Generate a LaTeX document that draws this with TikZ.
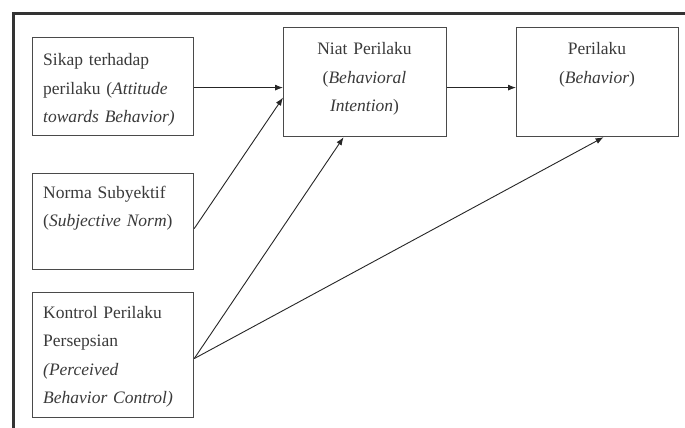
\documentclass[tikz,border=0pt]{standalone}
\usepackage{fontspec}
\setmainfont{Liberation Serif}
\usetikzlibrary{arrows.meta}
\definecolor{boxc}{HTML}{4A4A4A}
\definecolor{txtc}{HTML}{3A3A3A}
\tikzset{
  box/.style={draw=boxc, line width=1.2pt, fill=white, inner sep=0pt, anchor=north west},
  txtl/.style={text=txtc, inner sep=0pt, align=left, text width=150pt, anchor=base west,
    font=\fontsize{17.5}{28.5}\selectfont},
  txtc/.style={text=txtc, inner sep=0pt, align=center, text width=160pt, anchor=base,
    font=\fontsize{17.5}{28.5}\selectfont},
  arr/.style={draw=black!85, line width=0.9pt, -{Latex[length=8pt,width=6pt]}}
}
\begin{document}
\begin{tikzpicture}[x=1pt,y=-1pt]
\useasboundingbox (0,0) rectangle (685,428);
\fill[white] (0,0) rectangle (685,428);
% outer frame
\draw[line width=3pt, draw=black!80] (13,430) -- (13,14) -- (690,14);
% boxes
\node[box, minimum width=161pt, minimum height=98pt] (sikap) at (32,37) {};
\node[box, minimum width=161pt, minimum height=96pt] (norma) at (32,173) {};
\node[box, minimum width=161pt, minimum height=125pt] (kontrol) at (32,292) {};
\node[box, minimum width=163pt, minimum height=109pt] (niat) at (283,27) {};
\node[box, minimum width=162pt, minimum height=109pt] (perilaku) at (516,27) {};
% texts
\node[txtl] (sikapt) at (43,66) {Sikap terhadap\\perilaku (\textit{Attitude}\\\textit{towards Behavior)}};
\node[txtl] (normat) at (43,198) {Norma Subyektif\\(\textit{Subjective Norm})};
\node[txtl] (kontrolt) at (43,318) {Kontrol Perilaku\\Persepsian\\\textit{(Perceived}\\\textit{Behavior Control)}};
\node[txtc] (niatt) at (364.5,55) {Niat Perilaku\\(\textit{Behavioral}\\\textit{Intention})};
\node[txtc] (perilakut) at (597,55) {Perilaku\\(\textit{Behavior})};
% arrows
\draw[arr] ([yshift=-1pt]sikap.east) -- ([yshift=-1pt]sikap.east -| niat.west);
\draw[arr] ([yshift=-7pt]norma.east) -- ([yshift=-15.5pt]niat.west);
\draw[arr] ([yshift=-3.5pt]kontrol.east) -- ([xshift=-21.5pt]niat.south);
\draw[arr] ([yshift=-3.5pt]kontrol.east) -- ([xshift=6pt]perilaku.south);
\draw[arr] ([yshift=-5.5pt]niat.east) -- ([yshift=-5.5pt]perilaku.west);
\end{tikzpicture}
\end{document}
